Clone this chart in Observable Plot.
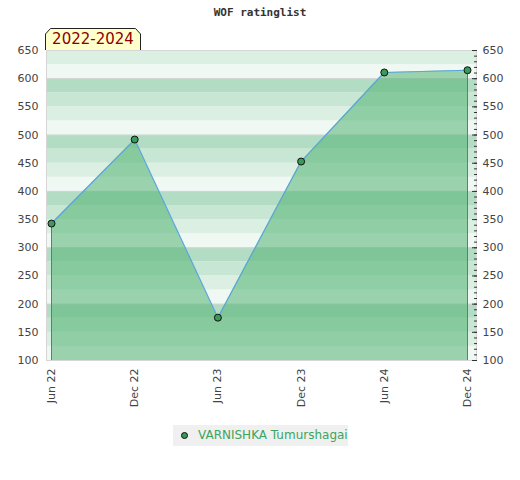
<!DOCTYPE html>
<html>
<head>
<meta charset="utf-8">
<script src="https://cdn.jsdelivr.net/npm/d3@7"></script>
<script src="https://cdn.jsdelivr.net/npm/@observablehq/plot@0.6"></script>
<style>
  body { margin: 0; background: #fff; }
  #wrap { position: relative; width: 520px; height: 480px; font-family: "DejaVu Sans", sans-serif; }
  #title { position: absolute; left: 0; width: 520px; top: 6px; text-align: center; font-family: "DejaVu Sans Mono", monospace; font-weight: bold; font-size: 11px; color: #333; }
  #badge { position: absolute; left: 45px; top: 28px; width: 96px; height: 22px; z-index: 2; }
  #badge svg { position: absolute; left: 0; top: 0; }
  #badge span { position: absolute; left: 0; top: 0; width: 96px; line-height: 23px; text-align: center; color: #8b0000; font-size: 15px; }
  #legend { position: absolute; left: 173px; top: 425px; width: 175px; height: 21px; background: #f0f0f0; font-size: 12px; color: #3aa55c; line-height: 21px; }
  #legend .dot { position: absolute; left: 8px; top: 7px; width: 5px; height: 5px; border-radius: 50%; background: #2e9e50; border: 1px solid #111; }
  #legend .lab { position: absolute; left: 25px; top: 0; }
  #wrap > svg { position: absolute; left: 0; top: 0; }
</style>
</head>
<body>
<div id="wrap">
  <div id="title">WOF ratinglist</div>
  <div id="badge"><svg width="96" height="22"><path d="M0.5,22 V6 L5.5,0.5 H90.5 L95.5,6 V22" fill="#ffffcc" stroke="#222" stroke-width="1"/></svg><span>2022-2024</span></div>
  <div id="legend"><span class="dot"></span><span class="lab">VARNISHKA Tumurshagai</span></div>
</div>
<script>
const periods = ["Jun 22", "Dec 22", "Jun 23", "Dec 23", "Jun 24", "Dec 24"];
const ratings = [343, 492, 176, 453, 611, 615];
const bandStarts = [100, 125, 150, 175, 200, 225, 250, 275, 300, 325, 350, 375, 400, 425, 450, 475, 500, 525, 550, 575, 600, 625];
const bandColors = ["#f0f8f3", "#dcefe3", "#c7e6d3", "#b3dcc4"];
const majorTicks = [100, 150, 200, 250, 300, 350, 400, 450, 500, 550, 600, 650];
const gridLines = [200, 300, 400, 500, 600];
const minorTicks = d3.range(100, 651, 10);

const data = periods.map((p, i) => ({i, p, r: ratings[i]}));
const bands = bandStarts.map((b, k) => ({y1: b, y2: b + 25, c: bandColors[k % 4]}));
const edges = [data[0], data[data.length - 1]];

const chart = Plot.plot({
  width: 520,
  height: 480,
  marginLeft: 46,
  marginRight: 44,
  marginTop: 50,
  marginBottom: 120,
  style: {fontFamily: "DejaVu Sans, sans-serif", fontSize: "11px", color: "#444", background: "transparent"},
  x: {domain: [0, 5], insetLeft: 5, insetRight: 9},
  y: {domain: [100, 650]},
  marks: [
    Plot.rect(bands, {y1: "y1", y2: "y2", x1: 0, x2: 5, fill: "c", insetLeft: -5, insetRight: -9}),
    Plot.ruleY(gridLines, {stroke: "#d4d4d4", strokeWidth: 1}),
    Plot.areaY(data, {x: "i", y1: 100, y2: "r", fill: "#52b273", fillOpacity: 0.55}),
    Plot.ruleX(edges, {x: "i", y1: 100, y2: "r", stroke: "#2e9e50", strokeWidth: 1}),
    Plot.lineY(data, {x: "i", y: "r", stroke: "#5aa5dc", strokeWidth: 1.2}),
    Plot.dot(data, {x: "i", y: "r", r: 3.5, fill: "#3a9a5a", stroke: "#111", strokeWidth: 1}),
    Plot.frame({stroke: "#d6d6d6"}),
    Plot.axisY({anchor: "left", ticks: majorTicks, tickSize: 0, tickPadding: 8, label: null}),
    Plot.axisY({anchor: "right", ticks: majorTicks, tickSize: 0, tickPadding: 6, label: null, textAnchor: "start"}),
    Plot.axisY({anchor: "right", ticks: minorTicks, tickSize: -3, tickFormat: () => "", label: null, stroke: "#333"}),
    Plot.axisY({anchor: "right", ticks: majorTicks, tickSize: -5, tickFormat: () => "", label: null, stroke: "#333"}),
    Plot.axisX({ticks: [0, 1, 2, 3, 4, 5], tickFormat: i => periods[i], tickRotate: -90, tickSize: 0, tickPadding: 8, label: null})
  ]
});
document.getElementById("wrap").prepend(chart);
</script>
</body>
</html>
